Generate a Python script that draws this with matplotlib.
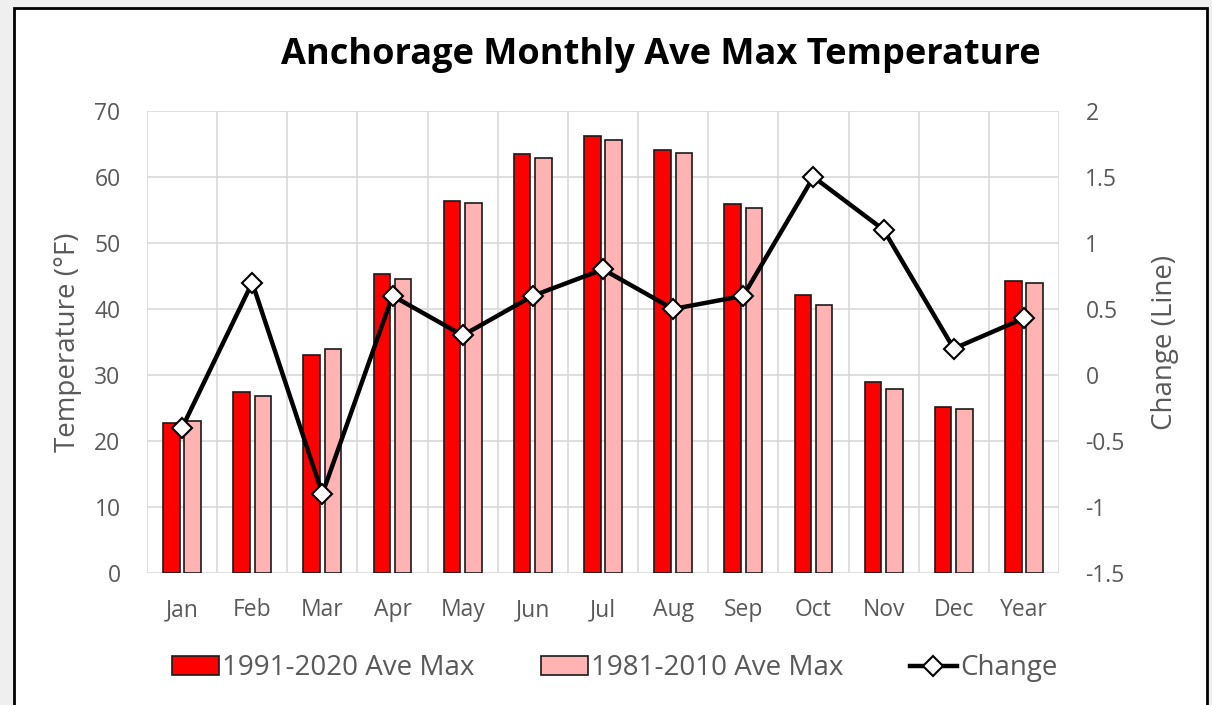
import numpy as np
import matplotlib.pyplot as plt
from matplotlib.patches import Rectangle

months = ["Jan", "Feb", "Mar", "Apr", "May", "Jun", "Jul", "Aug", "Sep", "Oct", "Nov", "Dec", "Year"]
max_9120 = [22.7, 27.5, 33.1, 45.3, 56.4, 63.5, 66.2, 64.1, 55.9, 42.1, 29.0, 25.2, 44.2]
max_8110 = [23.1, 26.8, 34.0, 44.5, 56.0, 62.9, 65.6, 63.7, 55.3, 40.6, 27.9, 24.8, 43.9]
change = [-0.4, 0.7, -0.9, 0.6, 0.3, 0.6, 0.8, 0.5, 0.6, 1.5, 1.1, 0.2, 0.43]

plt.rcParams['font.family'] = ['Open Sans', 'DejaVu Sans']
grey = "#595959"

fig = plt.figure(figsize=(12.12, 7.05), dpi=100)
fig.patch.set_facecolor("#efefef")
# white panel with dark frame like the screenshot
fig.patches.append(Rectangle((14 / 1212, -0.05), (1207 - 14) / 1212, 1.05 - 8 / 705,
                             transform=fig.transFigure, facecolor="white",
                             edgecolor="black", linewidth=2, zorder=-1))

ax = fig.add_axes([147 / 1212, 1 - 573 / 705, (1059 - 147) / 1212, (573 - 111) / 705])
ax.set_zorder(1)
ax.patch.set_visible(False)
ax2 = ax.twinx()
ax2.set_zorder(2)

x = np.arange(len(months))
w = 0.235
off = 0.152
ax.bar(x - off, max_9120, w, color="#ff0000", edgecolor="#1a1a1a", linewidth=1.2,
       label="1991-2020 Ave Max", zorder=3)
ax.bar(x + off, max_8110, w, color="#ffb3b3", edgecolor="#1a1a1a", linewidth=1.2,
       label="1981-2010 Ave Max", zorder=3)

ax.set_xlim(-0.5, len(months) - 0.5)
ax.set_ylim(0, 70)
ax.set_yticks(range(0, 71, 10))
ax.set_xticks(x)
ax.set_xticklabels(months)
ax.set_xticks(np.arange(-0.5, len(months), 1), minor=True)
ax.grid(True, which="minor", axis="x", color="#d9d9d9", linewidth=1.2, zorder=0)
ax.grid(True, which="major", axis="y", color="#d9d9d9", linewidth=1.2, zorder=0)
ax.tick_params(axis="x", which="both", length=0, pad=18, labelsize=16.5, labelcolor=grey)
ax.tick_params(axis="y", length=0, pad=19, labelsize=16.5, labelcolor=grey)
for s in ax.spines.values():
    s.set_visible(False)
ax.set_ylabel("Temperature (°F)", fontsize=20, color=grey, labelpad=9)

ax2.plot(x, change, color="black", linewidth=3.2, marker="D", markersize=10,
         markerfacecolor="white", markeredgecolor="black", markeredgewidth=1.5,
         label="Change")
ax2.set_ylim(-1.5, 2)
ax2.set_yticks([-1.5, -1, -0.5, 0, 0.5, 1, 1.5, 2])
ax2.set_yticklabels(["-1.5", "-1", "-0.5", "0", "0.5", "1", "1.5", "2"])
ax2.tick_params(axis="y", length=0, pad=19, labelsize=16.5, labelcolor=grey)
for s in ax2.spines.values():
    s.set_visible(False)
ax2.set_ylabel("Change (Line)", fontsize=20, color=grey, labelpad=19)

fig.text(0.545, 0.922, "Anchorage Monthly Ave Max Temperature", ha="center", va="center",
         fontsize=26, fontweight="bold", color="black")

h1, l1 = ax.get_legend_handles_labels()
h2, l2 = ax2.get_legend_handles_labels()
fig.legend(h1 + h2, l1 + l2, loc="center", bbox_to_anchor=(0.507, 0.052), ncol=3,
           frameon=False, fontsize=20, labelcolor=grey, handlelength=1.7,
           handletextpad=0.1, columnspacing=2.4)

fig.savefig("out.png", dpi=100)
